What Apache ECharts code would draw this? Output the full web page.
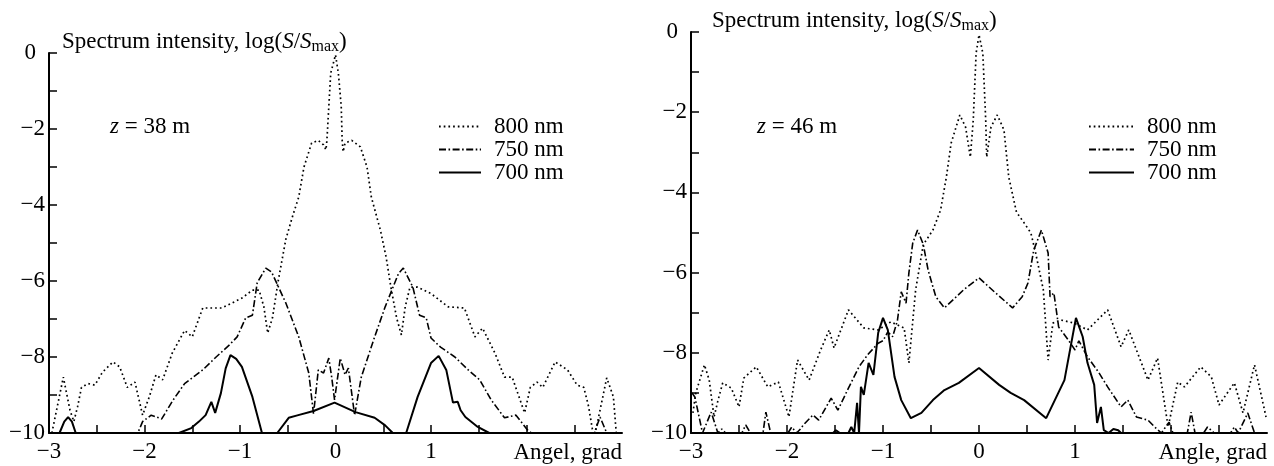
<!DOCTYPE html>
<html>
<head>
<meta charset="utf-8">
<script src="https://cdn.jsdelivr.net/npm/echarts@6/dist/echarts.min.js"></script>
<style>
html,body{margin:0;padding:0;background:#fff;}
#c{width:1274px;height:466px;}
</style>
</head>
<body>
<div id="c"></div>
<script>
// ---- Data (angle in grad, log10 spectrum intensity) ----
const seriesNames = ['800 nm', '750 nm', '700 nm'];
const yTicks = [0, -2, -4, -6, -8, -10];
const xTicks = [-3, -2, -1, 0, 1];

// Left panel: z = 38 m
const left800 = [[-2.97,-10],[-2.85,-8.53],[-2.78,-9.4],[-2.74,-9.7],[-2.7,-9.3],[-2.66,-8.8],[-2.59,-8.7],[-2.52,-8.74],[-2.44,-8.4],[-2.33,-8.13],[-2.26,-8.26],[-2.18,-8.8],[-2.1,-8.66],[-2.02,-9.53],[-1.95,-9.05],[-1.88,-8.47],[-1.81,-8.6],[-1.71,-7.9],[-1.58,-7.3],[-1.5,-7.47],[-1.39,-6.71],[-1.19,-6.71],[-0.98,-6.45],[-0.87,-6.24],[-0.8,-6.24],[-0.75,-6.68],[-0.71,-7.37],[-0.66,-6.97],[-0.6,-6.0],[-0.52,-4.9],[-0.45,-4.3],[-0.385,-3.79],[-0.33,-3.0],[-0.25,-2.37],[-0.18,-2.3],[-0.125,-2.42],[-0.1,-2.55],[-0.09,-2.3],[-0.07,-1.41],[-0.05,-0.53],[0,-0.05],[0.03,-0.53],[0.06,-1.41],[0.07,-2.3],[0.08,-2.6],[0.1,-2.37],[0.17,-2.3],[0.26,-2.47],[0.33,-3.0],[0.375,-3.79],[0.47,-4.66],[0.53,-5.37],[0.58,-6.16],[0.64,-6.97],[0.69,-7.42],[0.73,-6.68],[0.78,-6.16],[0.86,-6.16],[1.0,-6.33],[1.18,-6.68],[1.35,-6.71],[1.46,-7.47],[1.54,-7.24],[1.67,-7.9],[1.77,-8.53],[1.85,-8.53],[1.98,-9.47],[2.04,-8.8],[2.11,-8.66],[2.17,-8.8],[2.3,-8.13],[2.43,-8.34],[2.53,-8.74],[2.6,-8.8],[2.65,-9.3],[2.69,-9.9],[2.72,-10],[2.77,-9.4],[2.84,-8.55],[2.91,-9.05],[2.94,-10]];
const left750 = [[-3,-10],[-2.07,-10],[-2.02,-9.7],[-1.93,-9.53],[-1.82,-9.63],[-1.7,-9.13],[-1.58,-8.7],[-1.39,-8.34],[-1.25,-8.0],[-1.11,-7.68],[-1.03,-7.47],[-0.94,-6.97],[-0.87,-6.9],[-0.82,-6.05],[-0.73,-5.66],[-0.67,-5.76],[-0.52,-6.58],[-0.385,-7.47],[-0.28,-8.42],[-0.23,-9.5],[-0.18,-8.34],[-0.125,-8.42],[-0.07,-8.03],[-0.04,-8.53],[-0.01,-9.13],[0.05,-8.03],[0.1,-8.47],[0.135,-8.29],[0.2,-9.53],[0.27,-8.53],[0.41,-7.47],[0.52,-6.68],[0.66,-5.8],[0.71,-5.66],[0.81,-6.16],[0.88,-6.9],[0.95,-6.97],[1.0,-7.5],[1.1,-7.74],[1.25,-8.0],[1.39,-8.34],[1.51,-8.6],[1.63,-9.13],[1.77,-9.6],[1.89,-9.53],[2.01,-9.92],[2.05,-10],[2.71,-10],[2.77,-9.58],[2.84,-10],[3,-10]];
const left700 = [[-3,-10],[-2.89,-10],[-2.84,-9.7],[-2.8,-9.58],[-2.76,-9.7],[-2.72,-10],[-1.64,-10],[-1.51,-9.87],[-1.43,-9.7],[-1.36,-9.53],[-1.3,-9.18],[-1.26,-9.47],[-1.2,-8.95],[-1.15,-8.3],[-1.1,-7.95],[-1.04,-8.05],[-0.98,-8.26],[-0.87,-9.05],[-0.77,-10],[-0.61,-10],[-0.49,-9.6],[-0.39,-9.53],[-0.23,-9.42],[-0.01,-9.2],[0.21,-9.45],[0.41,-9.6],[0.52,-9.8],[0.6,-10],[0.74,-10],[0.86,-9.05],[1.0,-8.16],[1.08,-7.97],[1.16,-8.34],[1.23,-9.2],[1.28,-9.18],[1.31,-9.4],[1.36,-9.58],[1.49,-9.84],[1.61,-10],[3,-10]];

// Right panel: z = 46 m
const right800 = [[-2.98,-9.5],[-2.95,-9.0],[-2.86,-8.3],[-2.81,-8.68],[-2.76,-9.6],[-2.72,-9.2],[-2.67,-8.75],[-2.58,-8.88],[-2.5,-9.35],[-2.45,-8.63],[-2.32,-8.35],[-2.2,-8.85],[-2.09,-8.73],[-1.98,-9.6],[-1.89,-8.18],[-1.77,-8.68],[-1.65,-7.93],[-1.56,-7.43],[-1.51,-7.88],[-1.36,-6.93],[-1.2,-7.38],[-1.05,-7.43],[-0.92,-7.23],[-0.78,-7.38],[-0.73,-8.25],[-0.66,-6.43],[-0.58,-5.3],[-0.48,-4.94],[-0.4,-4.44],[-0.34,-3.62],[-0.29,-2.77],[-0.2,-2.07],[-0.14,-2.37],[-0.09,-3.12],[-0.06,-2.2],[-0.03,-0.53],[0,-0.07],[0.04,-0.53],[0.07,-2.2],[0.08,-3.12],[0.125,-2.37],[0.19,-2.07],[0.26,-2.44],[0.31,-3.62],[0.39,-4.49],[0.47,-4.76],[0.54,-5.01],[0.59,-5.51],[0.67,-6.43],[0.72,-8.18],[0.77,-7.26],[0.85,-7.18],[0.99,-7.26],[1.13,-7.43],[1.34,-6.93],[1.48,-7.85],[1.56,-7.43],[1.76,-8.68],[1.86,-8.13],[1.97,-9.85],[2.07,-8.73],[2.14,-8.85],[2.31,-8.35],[2.42,-8.6],[2.5,-9.3],[2.66,-8.75],[2.75,-9.5],[2.87,-8.3],[2.99,-9.6]];
const right750 = [[-2.99,-9.0],[-2.96,-9.1],[-2.88,-10],[-2.79,-9.48],[-2.72,-10],[-2.68,-9.9],[-2.64,-10],[-2.47,-10],[-2.43,-9.8],[-2.38,-10],[-2.25,-10],[-2.22,-9.48],[-2.17,-10],[-1.99,-10],[-1.95,-9.85],[-1.9,-10],[-1.86,-9.9],[-1.83,-9.8],[-1.73,-9.55],[-1.67,-9.68],[-1.54,-9.13],[-1.47,-9.43],[-1.36,-8.88],[-1.25,-8.35],[-1.16,-8.05],[-1.05,-7.76],[-1.0,-7.7],[-0.95,-7.48],[-0.9,-7.6],[-0.85,-7.2],[-0.81,-6.48],[-0.76,-6.76],[-0.73,-6.0],[-0.69,-5.26],[-0.64,-4.94],[-0.58,-5.3],[-0.53,-5.94],[-0.45,-6.6],[-0.36,-6.88],[-0.16,-6.43],[0,-6.13],[0.16,-6.48],[0.35,-6.88],[0.45,-6.6],[0.51,-6.26],[0.57,-5.44],[0.65,-4.94],[0.72,-5.51],[0.74,-6.6],[0.78,-6.51],[0.83,-7.36],[0.93,-7.68],[1.0,-7.93],[1.04,-7.7],[1.13,-8.1],[1.25,-8.5],[1.34,-8.85],[1.48,-9.35],[1.55,-9.18],[1.64,-9.6],[1.76,-9.68],[1.83,-9.85],[1.9,-10],[1.98,-9.73],[2.02,-10],[2.17,-10],[2.21,-9.48],[2.25,-10],[2.34,-10],[2.38,-9.85],[2.45,-10],[2.62,-10],[2.66,-9.85],[2.7,-10],[2.8,-9.5],[2.87,-10],[3,-10]];
const right700 = [[-3,-10],[-1.52,-10],[-1.49,-9.93],[-1.45,-10],[-1.36,-10],[-1.33,-9.85],[-1.3,-10],[-1.27,-9.25],[-1.25,-10],[-1.23,-8.85],[-1.2,-9.05],[-1.15,-8.25],[-1.1,-8.55],[-1.05,-7.5],[-1.0,-7.13],[-0.95,-7.43],[-0.88,-8.6],[-0.81,-9.18],[-0.71,-9.63],[-0.6,-9.5],[-0.48,-9.18],[-0.36,-8.93],[-0.21,-8.75],[0,-8.38],[0.21,-8.8],[0.33,-9.0],[0.47,-9.18],[0.7,-9.63],[0.89,-8.68],[1.01,-7.13],[1.08,-7.6],[1.13,-8.25],[1.2,-8.8],[1.23,-9.75],[1.27,-9.35],[1.3,-9.93],[1.35,-10],[1.4,-9.9],[1.45,-9.93],[1.48,-10],[3,-10]];

const panelLabels = ['38 m', '46 m'];
const xAxisNames = ['Angel, grad', 'Angle, grad'];

// ---- Styling ----
const FONT = 'Liberation Serif';
const FS = 23;
const BLACK = '#000';
function fmtNum(v) {
  if (v === 0) return '0';
  return v < 0 ? '\u2212' + (-v) : String(v);
}
function xLabel(v) {
  return xTicks.some(t => Math.abs(t - v) < 1e-9) ? fmtNum(Math.round(v)) : '';
}
function yLabel(v) {
  if (Math.abs(v) < 1e-9) return '{z|0}';
  return yTicks.some(t => Math.abs(t - v) < 1e-9) ? fmtNum(Math.round(v)) : '';
}
const lineStyles = {
  '800 nm': { color: BLACK, width: 1.7, type: [1.7, 3] },
  '750 nm': { color: BLACK, width: 1.6, type: [7, 2.5, 1.6, 2.5] },
  '700 nm': { color: BLACK, width: 2 }
};
const yNameRich = {
  a: { fontSize: FS, fontFamily: FONT, color: BLACK },
  i: { fontSize: FS, fontFamily: FONT, color: BLACK, fontStyle: 'italic' },
  s: { fontSize: 16, fontFamily: FONT, color: BLACK, verticalAlign: 'bottom', padding: [10, 0, 0, 0] }
};
const grids = [
  { left: 49, top: 53, width: 573, height: 380 },
  { left: 691, top: 32, width: 576, height: 401 }
];
function makeX(i) {
  return {
    gridIndex: i, type: 'value', min: -3, max: 3, interval: 0.5,
    axisLine: { onZero: false, lineStyle: { color: BLACK, width: 2 } },
    axisTick: { inside: true, length: 8, lineStyle: { color: BLACK, width: 1.5 } },
    axisLabel: { formatter: xLabel, fontSize: FS, fontFamily: FONT, color: BLACK, margin: 7, showMaxLabel: false },
    splitLine: { show: false },
    name: xAxisNames[i], nameLocation: 'end', nameGap: 0,
    nameTextStyle: { align: 'right', verticalAlign: 'top', padding: [8, 0, 0, 0], fontSize: FS, fontFamily: FONT, color: BLACK }
  };
}
function makeY(i) {
  return {
    gridIndex: i, type: 'value', min: -10, max: 0, interval: 1,
    axisLine: { onZero: false, lineStyle: { color: BLACK, width: 2 } },
    axisTick: { inside: true, length: 8, lineStyle: { color: BLACK, width: 1.5 } },
    axisLabel: { formatter: yLabel, fontSize: FS, fontFamily: FONT, color: BLACK, margin: 4,
      rich: { z: { fontSize: FS, fontFamily: FONT, color: BLACK, padding: [0, 9, 0, 0] } } },
    splitLine: { show: false },
    name: '{a|Spectrum intensity, log(}{i|S}{a|/}{i|S}{s|max}{a|)}',
    nameLocation: 'end', nameGap: -2,
    nameTextStyle: { align: 'left', verticalAlign: 'bottom', padding: [0, 0, 0, i === 0 ? 13 : 21], rich: yNameRich }
  };
}
const dataSets = [[left800, left750, left700], [right800, right750, right700]];
const series = [];
dataSets.forEach((set, gi) => {
  set.forEach((d, si) => {
    const nm = seriesNames[si];
    series.push({
      name: nm, type: 'line', xAxisIndex: gi, yAxisIndex: gi,
      data: d, showSymbol: false, symbol: 'none', smooth: false,
      lineStyle: lineStyles[nm], itemStyle: { color: BLACK },
      animation: false, silent: true
    });
  });
});
function makeLegend(left, w) {
  return {
    left: left, top: 115, orient: 'vertical', itemWidth: w, itemHeight: 12, itemGap: 0,
    padding: 0, selectedMode: false, data: seriesNames,
    itemStyle: { opacity: 0, color: 'transparent', borderWidth: 0 },
    textStyle: { fontSize: FS, fontFamily: FONT, color: BLACK, padding: [0, 0, 0, 8] }
  };
}
const zRich = {
  i: { fontSize: FS, fontFamily: FONT, fontStyle: 'italic', color: BLACK },
  a: { fontSize: FS, fontFamily: FONT, color: BLACK }
};
const option = {
  backgroundColor: '#fff',
  animation: false,
  grid: grids,
  xAxis: [makeX(0), makeX(1)],
  yAxis: [makeY(0), makeY(1)],
  legend: [makeLegend(438, 42), makeLegend(1088, 45)],
  graphic: [
    { type: 'text', left: 110, top: 115, style: { text: '{i|z}{a| = ' + panelLabels[0] + '}', rich: zRich } },
    { type: 'text', left: 757, top: 115, style: { text: '{i|z}{a| = ' + panelLabels[1] + '}', rich: zRich } }
  ],
  series: series
};
const chart = echarts.init(document.getElementById('c'), null, { renderer: 'canvas' });
chart.setOption(option);
</script>
</body>
</html>
